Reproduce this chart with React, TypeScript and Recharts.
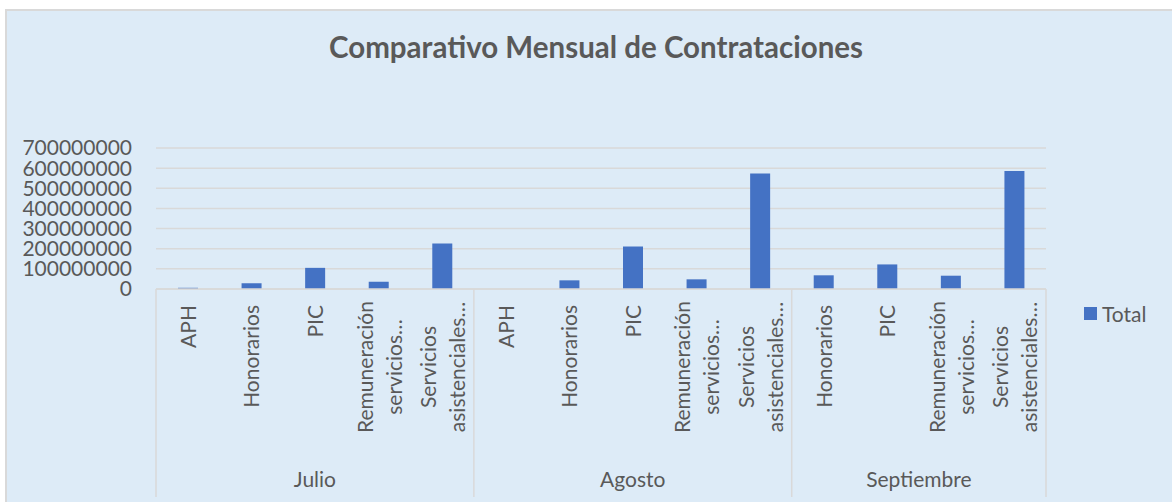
import { BarChart, Bar, XAxis, YAxis, CartesianGrid } from 'recharts';

const months = ['Julio', 'Agosto', 'Septiembre'];
const julioCats = ['APH', 'Honorarios', 'PIC', 'Remuneración servicios…', 'Servicios asistenciales…'];
const julioValues = [6000000, 28000000, 105000000, 36000000, 226000000];
const agostoCats = ['APH', 'Honorarios', 'PIC', 'Remuneración servicios…', 'Servicios asistenciales…'];
const agostoValues = [0, 43000000, 211000000, 48000000, 574000000];
const septiembreCats = ['Honorarios', 'PIC', 'Remuneración servicios…', 'Servicios asistenciales…'];
const septiembreValues = [68000000, 122000000, 66000000, 586000000];
const yTicks = [0, 100000000, 200000000, 300000000, 400000000, 500000000, 600000000, 700000000];

const groups = [
  { month: months[0], cats: julioCats, values: julioValues },
  { month: months[1], cats: agostoCats, values: agostoValues },
  { month: months[2], cats: septiembreCats, values: septiembreValues },
];

const data = groups.flatMap((g) =>
  g.cats.map((cat, i) => ({ key: `${g.month}-${cat}`, month: g.month, cat, total: g.values[i] }))
);

const TEXT = '#595959';
const LINE = '#D9D9D9';
const BLUE = '#4472C4';
const FONT = 'Lato, sans-serif';
const FS = 21;

function CategoryTick(props: any) {
  const { x, y, payload } = props;
  const idx = payload.index;
  const row = data[idx];
  const slot = (props.width || 890) / data.length;
  const lines = row.cat.split(' ');
  const first = data.findIndex((d) => d.month === row.month);
  const count = data.filter((d) => d.month === row.month).length;
  const isLast = idx === data.length - 1;

  return (
    <g>
      {lines.length === 1 ? (
        <text
          transform={`translate(${x + 8}, ${y + 16}) rotate(-90)`}
          textAnchor="end"
          fill={TEXT}
          fontSize={FS}
          fontFamily={FONT}
        >
          {lines[0]}
        </text>
      ) : (
        lines.map((ln: string, k: number) => (
          <text
            key={k}
            transform={`translate(${x - 6 + k * 29}, ${y + 78}) rotate(-90)`}
            textAnchor="middle"
            fill={TEXT}
            fontSize={FS}
            fontFamily={FONT}
          >
            {ln}
          </text>
        ))
      )}
      {idx === first && (
        <>
          <line x1={x - slot / 2} x2={x - slot / 2} y1={y} y2={y + 208} stroke={LINE} strokeWidth={1.5} />
          <text
            x={x - slot / 2 + (count * slot) / 2}
            y={y + 198}
            textAnchor="middle"
            fill={TEXT}
            fontSize={FS}
            fontFamily={FONT}
          >
            {row.month}
          </text>
        </>
      )}
      {isLast && (
        <line x1={x + slot / 2} x2={x + slot / 2} y1={y} y2={y + 208} stroke={LINE} strokeWidth={1.5} />
      )}
    </g>
  );
}

export default function App() {
  return (
    <div style={{ position: 'relative', width: 1172, height: 502, background: '#fff', overflow: 'hidden' }}>
      <style>{`body{margin:0}`}</style>
      <div
        style={{
          position: 'absolute',
          left: 5,
          top: 9,
          right: 0,
          bottom: 0,
          background: '#DDEBF7',
          borderTop: `2px solid ${LINE}`,
          borderLeft: `2px solid ${LINE}`,
        }}
      />
      <div
        style={{
          position: 'absolute',
          left: 0,
          width: 1192,
          top: 29,
          textAlign: 'center',
          fontFamily: FONT,
          fontWeight: 700,
          fontSize: 29.5,
          color: TEXT,
        }}
      >
        Comparativo Mensual de Contrataciones
      </div>
      <div style={{ position: 'absolute', left: 0, top: 0 }}>
        <BarChart
          width={1172}
          height={502}
          data={data}
          margin={{ top: 148, right: 126, bottom: 5, left: 6 }}
        >
          <CartesianGrid vertical={false} stroke={LINE} strokeWidth={1.5} />
          <YAxis
            width={150}
            domain={[0, 700000000]}
            ticks={yTicks}
            interval={0}
            axisLine={false}
            tickLine={false}
            tickSize={0}
            tickMargin={24}
            tick={{ fill: TEXT, fontSize: FS, fontFamily: FONT }}
          />
          <XAxis
            dataKey="key"
            height={208}
            interval={0}
            tickLine={false}
            tickSize={0}
            tickMargin={0}
            axisLine={{ stroke: LINE, strokeWidth: 1.5 }}
            tick={<CategoryTick />}
          />
          <Bar dataKey="total" name="Total" fill={BLUE} barSize={20} isAnimationActive={false} />
        </BarChart>
      </div>
      <div
        style={{
          position: 'absolute',
          left: 1084,
          top: 301,
          display: 'flex',
          alignItems: 'center',
          fontFamily: FONT,
          fontSize: FS,
          color: TEXT,
        }}
      >
        <span style={{ width: 13, height: 13, background: BLUE, display: 'inline-block', marginRight: 5 }} />
        <span>Total</span>
      </div>
    </div>
  );
}
